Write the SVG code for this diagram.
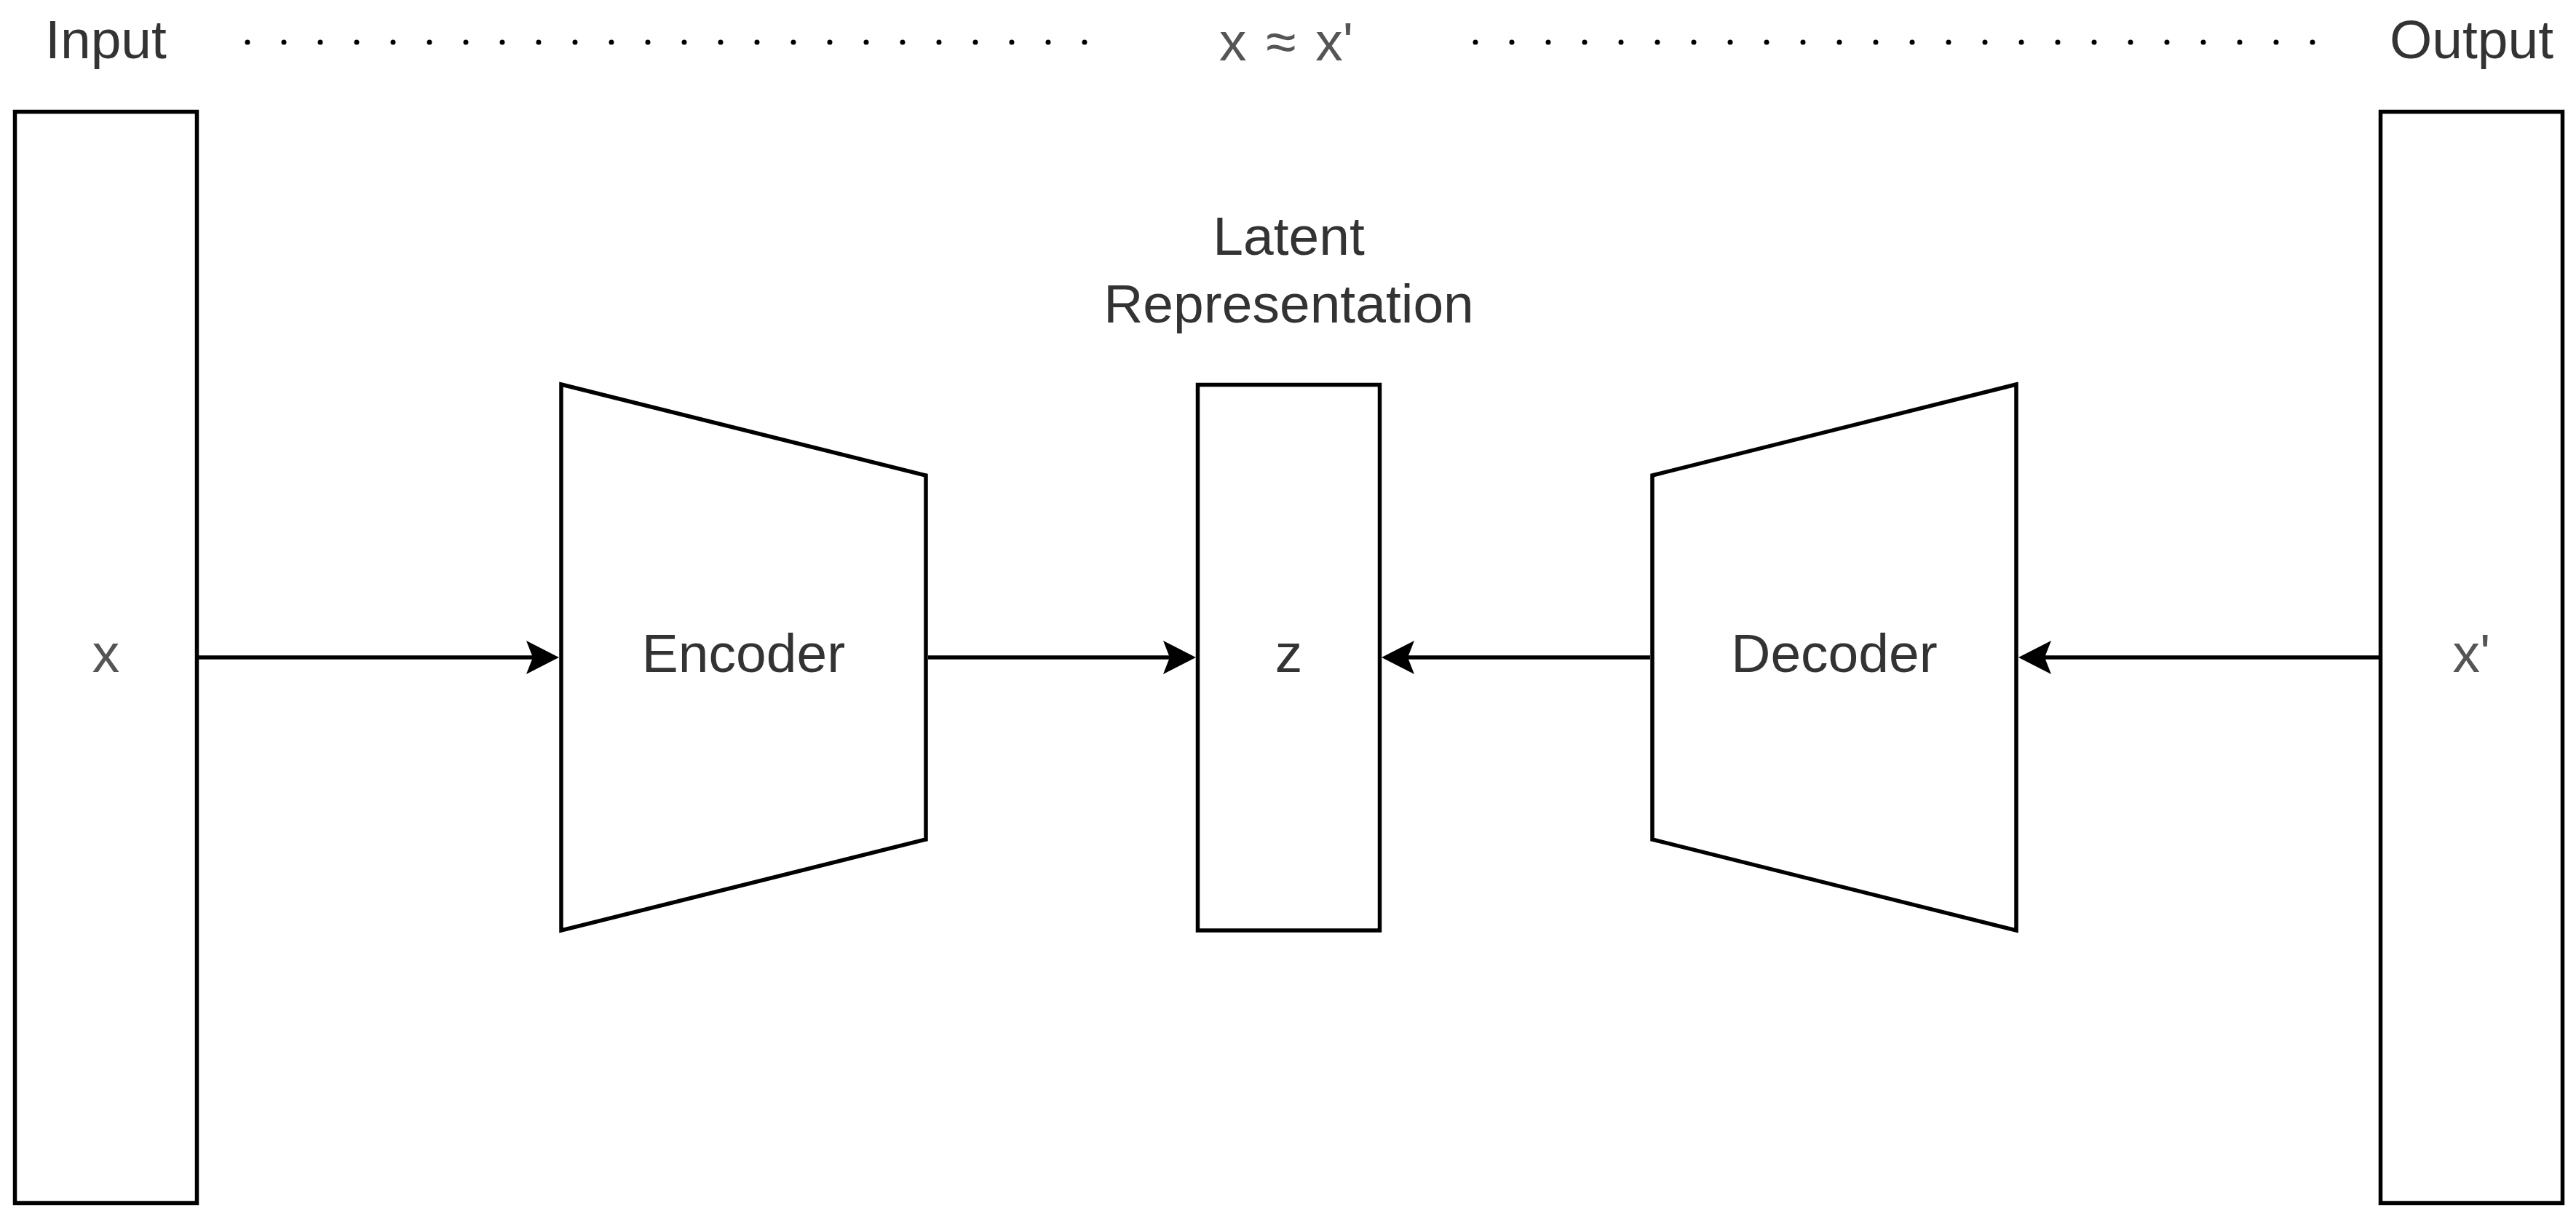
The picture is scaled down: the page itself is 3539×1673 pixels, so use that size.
<svg xmlns="http://www.w3.org/2000/svg" width="3539" height="1673" viewBox="0 0 3539 1673">
  <style>
    .shape { fill: #ffffff; stroke: #000000; stroke-width: 5.5; stroke-linejoin: miter; }
    .label { font-family: "Liberation Sans", Arial, Helvetica, sans-serif; font-size: 75px; fill: #333333; text-anchor: middle; }
    .light { fill: #555555; }
    .edge { fill: none; stroke: #000000; stroke-width: 5.5; }
    .dots { fill: none; stroke: #000000; stroke-width: 7; stroke-linecap: round; stroke-dasharray: 0 50; }
  </style>
  <defs>
    <marker id="arrow" markerUnits="userSpaceOnUse" viewBox="0 -25 50 50" markerWidth="50" markerHeight="50" refX="9" refY="0" orient="auto" overflow="visible">
      <path d="M0,-23 L9,0 L0,23 L45,0 Z" fill="#000000" stroke="none"/>
    </marker>
  </defs>
  <rect x="0" y="0" width="3539" height="1673" fill="#ffffff"/>

  <g id="header">
    <text class="label" x="145.5" y="80">Input</text>
    <text class="label light" x="1767" y="83" word-spacing="6">x ≈ x'</text>
    <text class="label" x="3395.5" y="80">Output</text>
    <line class="dots" x1="340" y1="58" x2="1491" y2="58"/>
    <line class="dots" x1="2027" y1="58" x2="3178" y2="58"/>
  </g>

  <g id="input">
    <rect class="shape" x="20.5" y="153.5" width="250" height="1499"/>
    <text class="label light" x="145.5" y="923">x</text>
  </g>

  <g id="encoder">
    <path class="shape" d="M771,528 L1272,653 L1272,1153 L771,1278 Z"/>
    <text class="label" x="1021.5" y="923">Encoder</text>
  </g>

  <g id="latent">
    <text class="label" x="1770.5" y="350">Latent</text>
    <text class="label" x="1770.5" y="443">Representation</text>
    <rect class="shape" x="1645.5" y="528.5" width="250" height="749.5"/>
    <text class="label" x="1770.5" y="923">z</text>
  </g>

  <g id="decoder">
    <path class="shape" d="M2770,528 L2270,653 L2270,1153 L2770,1278 Z"/>
    <text class="label" x="2520" y="923">Decoder</text>
  </g>

  <g id="output">
    <rect class="shape" x="3270.5" y="153.5" width="250" height="1499"/>
    <text class="label light" x="3395.5" y="923">x'</text>
  </g>

  <g id="connectors">
    <line class="edge" x1="273" y1="903" x2="732" y2="903" marker-end="url(#arrow)"/>
    <line class="edge" x1="1275" y1="903" x2="1607" y2="903" marker-end="url(#arrow)"/>
    <line class="edge" x1="2267" y1="903" x2="1934" y2="903" marker-end="url(#arrow)"/>
    <line class="edge" x1="3268" y1="903" x2="2809" y2="903" marker-end="url(#arrow)"/>
  </g>
</svg>
